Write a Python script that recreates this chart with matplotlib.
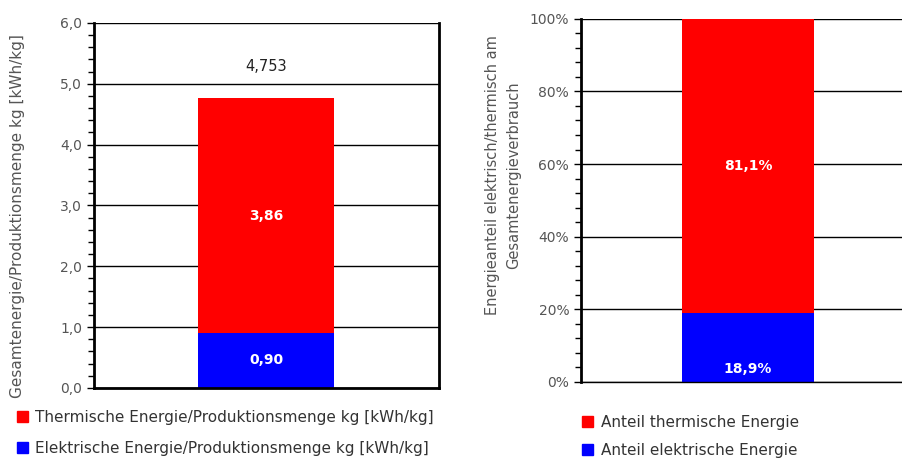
import matplotlib
matplotlib.use('Agg')
import matplotlib.pyplot as plt
from matplotlib.patches import Patch
from matplotlib.ticker import MultipleLocator, FuncFormatter

# data
elec_kwh = 0.90
therm_kwh = 3.86
total_label = '4,753'
elec_share = 18.9
therm_share = 81.1

left_ylabel = 'Gesamtenergie/Produktionsmenge kg [kWh/kg]'
right_ylabel = 'Energieanteil elektrisch/thermisch am\nGesamtenergieverbrauch'
left_legend = ['Thermische Energie/Produktionsmenge kg [kWh/kg]',
               'Elektrische Energie/Produktionsmenge kg [kWh/kg]']
right_legend = ['Anteil thermische Energie', 'Anteil elektrische Energie']

RED = '#ff0000'
BLUE = '#0000ff'
GREY = '#555555'

plt.rcParams['font.family'] = ['DejaVu Sans']

fig = plt.figure(figsize=(9.03, 4.59), dpi=100)


def de_num(v, digits):
    return f"{v:.{digits}f}".replace('.', ',')


def style_axis(ax):
    ax.tick_params(axis='y', which='both', direction='out', colors='black',
                   labelcolor=GREY, labelsize=10, width=1)
    ax.tick_params(axis='y', which='major', length=5)
    ax.tick_params(axis='y', which='minor', length=4)
    ax.set_xticks([])
    ax.yaxis.grid(True, which='major', color='black', linewidth=1)
    ax.set_axisbelow(True)
    ax.spines['top'].set_visible(False)
    ax.spines['left'].set_linewidth(2)
    ax.spines['bottom'].set_linewidth(2)


# ---- left chart: absolute values
ax1 = fig.add_axes([0.104, 0.155, 0.382, 0.795])
ax1.bar(0, elec_kwh, width=0.394, color=BLUE, zorder=2)
ax1.bar(0, therm_kwh, width=0.394, bottom=elec_kwh, color=RED, zorder=2)
ax1.set_xlim(-0.5, 0.5)
ax1.set_ylim(0, 6)
ax1.yaxis.set_major_locator(MultipleLocator(1))
ax1.yaxis.set_minor_locator(MultipleLocator(0.2))
ax1.yaxis.set_major_formatter(FuncFormatter(lambda v, p: de_num(v, 1)))
style_axis(ax1)
ax1.spines['right'].set_linewidth(2)
ax1.set_ylabel(left_ylabel, color=GREY, fontsize=11)
ax1.yaxis.set_label_coords(-0.2, 0.47)
ax1.text(0, elec_kwh / 2, de_num(elec_kwh, 2), color='white', fontweight='bold',
         ha='center', va='center', fontsize=10, zorder=3)
ax1.text(0, elec_kwh + therm_kwh / 2, de_num(therm_kwh, 2), color='white',
         fontweight='bold', ha='center', va='center', fontsize=10, zorder=3)
ax1.text(0, elec_kwh + therm_kwh + 0.52, total_label, color='#222222',
         ha='center', va='center', fontsize=10.5)

ax1.legend(handles=[Patch(color=RED, label=left_legend[0]),
                    Patch(color=BLUE, label=left_legend[1])],
           loc='upper left', bbox_to_anchor=(0.012, 0.12), bbox_transform=fig.transFigure,
           frameon=False, handlelength=0.7, handleheight=0.7, handletextpad=0.5,
           labelspacing=1.05, fontsize=11, labelcolor='#333333', borderaxespad=0)

# ---- right chart: shares
ax2 = fig.add_axes([0.6434, 0.168, 0.370, 0.791])
ax2.bar(0, elec_share, width=0.394, color=BLUE, zorder=2)
ax2.bar(0, therm_share, width=0.394, bottom=elec_share, color=RED, zorder=2)
ax2.set_xlim(-0.5, 0.5)
ax2.set_ylim(0, 100)
ax2.yaxis.set_major_locator(MultipleLocator(20))
ax2.yaxis.set_minor_locator(MultipleLocator(4))
ax2.yaxis.set_major_formatter(FuncFormatter(lambda v, p: f"{v:.0f}%"))
style_axis(ax2)
ax2.spines['bottom'].set_linewidth(1)
ax2.spines['right'].set_visible(False)
ax2.set_ylabel(right_ylabel, color=GREY, fontsize=10.5, linespacing=1.45)
ax2.yaxis.set_label_coords(-0.18, 0.57)
ax2.text(0, elec_share * 0.19, de_num(elec_share, 1) + '%', color='white', fontweight='bold',
         ha='center', va='center', fontsize=10, zorder=3)
ax2.text(0, elec_share + therm_share / 2, de_num(therm_share, 1) + '%', color='white',
         fontweight='bold', ha='center', va='center', fontsize=10, zorder=3)

ax2.legend(handles=[Patch(color=RED, label=right_legend[0]),
                    Patch(color=BLUE, label=right_legend[1])],
           loc='upper left', bbox_to_anchor=(0.638, 0.11), bbox_transform=fig.transFigure,
           frameon=False, handlelength=0.7, handleheight=0.7, handletextpad=0.5,
           labelspacing=0.85, fontsize=11, labelcolor='#333333', borderaxespad=0)

fig.savefig('out.png', dpi=100)
